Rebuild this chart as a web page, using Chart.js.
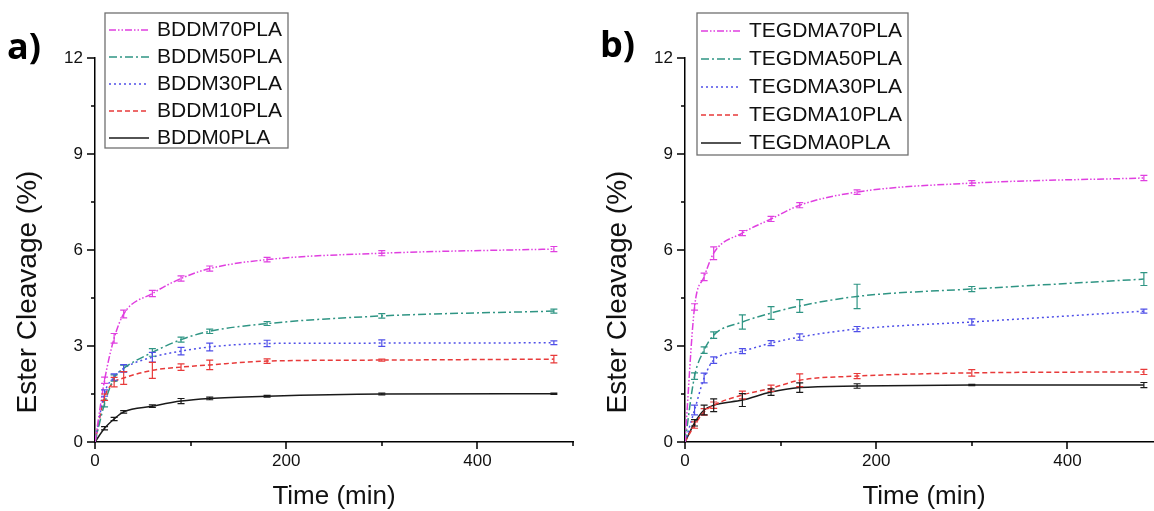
<!DOCTYPE html>
<html>
<head>
<meta charset="utf-8">
<script src="https://cdn.jsdelivr.net/npm/chart.js@4"></script>
<style>
    html, body { margin: 0; padding: 0; background: #fff; overflow: hidden; }
    .wrap { position: relative; width: 1154px; height: 511px; overflow: hidden; }
    canvas { position: absolute; top: 0; }
    #chart-a { left: 0; }
    #chart-b { left: 590px; }
    .panel { position: absolute; font: bold 36px "Open Sans", Lato, sans-serif; line-height: 1; color: #000; }
</style>
</head>
<body>
<div class="wrap">
    <canvas id="chart-a" width="590" height="511"></canvas>
    <canvas id="chart-b" width="590" height="511"></canvas>
    <div class="panel" style="left: 7px; top: 28px;">a)</div>
    <div class="panel" style="left: 600px; top: 26px;">b)</div>
</div>
<script>
// sampling times (min)
const times = [0, 10, 20, 30, 60, 90, 120, 180, 300, 480]

// a) BDDM series, ester cleavage (%)
const bddmLabels = ["BDDM70PLA", "BDDM50PLA", "BDDM30PLA", "BDDM10PLA", "BDDM0PLA"]
const bddm70 = [0, 1.93, 3.24, 4.00, 4.64, 5.11, 5.42, 5.70, 5.90, 6.03]
const bddm50 = [0, 1.20, 2.00, 2.30, 2.80, 3.20, 3.46, 3.70, 3.94, 4.09]
const bddm30 = [0, 1.53, 2.03, 2.30, 2.65, 2.84, 2.97, 3.08, 3.09, 3.10]
const bddm10 = [0, 1.40, 1.87, 2.00, 2.24, 2.34, 2.41, 2.53, 2.56, 2.59]
const bddm0 = [0, 0.43, 0.72, 0.94, 1.12, 1.28, 1.36, 1.43, 1.50, 1.51]
const bddm70Err = [0, 0.10, 0.15, 0.12, 0.10, 0.08, 0.08, 0.07, 0.08, 0.08]
const bddm50Err = [0, 0.10, 0.10, 0.10, 0.12, 0.08, 0.07, 0.06, 0.07, 0.06]
const bddm30Err = [0, 0.10, 0.10, 0.12, 0.15, 0.12, 0.12, 0.10, 0.10, 0.06]
const bddm10Err = [0, 0.10, 0.15, 0.20, 0.25, 0.10, 0.15, 0.07, 0.03, 0.12]
const bddm0Err = [0, 0.05, 0.05, 0.04, 0.04, 0.08, 0.04, 0.03, 0.03, 0.02]

// b) TEGDMA series, ester cleavage (%)
const tegLabels = ["TEGDMA70PLA", "TEGDMA50PLA", "TEGDMA30PLA", "TEGDMA10PLA", "TEGDMA0PLA"]
const teg70 = [0, 4.22, 5.16, 5.90, 6.53, 6.97, 7.40, 7.81, 8.09, 8.25]
const teg50 = [0, 2.06, 2.87, 3.34, 3.75, 4.03, 4.25, 4.55, 4.78, 5.09]
const teg30 = [0, 1.00, 2.00, 2.56, 2.84, 3.09, 3.28, 3.53, 3.75, 4.09]
const teg10 = [0, 0.53, 0.94, 1.15, 1.47, 1.68, 1.93, 2.06, 2.16, 2.19]
const teg0 = [0, 0.60, 1.00, 1.15, 1.31, 1.56, 1.70, 1.75, 1.78, 1.78]
const teg70Err = [0, 0.10, 0.12, 0.20, 0.08, 0.08, 0.08, 0.07, 0.08, 0.08]
const teg50Err = [0, 0.10, 0.10, 0.10, 0.22, 0.20, 0.20, 0.38, 0.08, 0.20]
const teg30Err = [0, 0.15, 0.15, 0.10, 0.08, 0.08, 0.10, 0.08, 0.10, 0.06]
const teg10Err = [0, 0.10, 0.10, 0.10, 0.12, 0.10, 0.20, 0.08, 0.10, 0.08]
const teg0Err = [0, 0.10, 0.15, 0.20, 0.20, 0.10, 0.15, 0.07, 0.02, 0.08]

// axis ranges / tick steps
const xMax = 500, xMajor = 200, xMinor = 100
const yMax = 12, yMajor = 3, yMinor = 1.5

const colors = ["#e03fe0", "#2f9584", "#4f4fe8", "#e83a3a", "#1a1a1a"]
const dashes = [[7, 2, 1.5, 2, 1.5, 2], [8, 3, 2, 3], [2, 3], [5, 3], []]

const font = "'Liberation Sans', Arial, sans-serif"

// vertical error bars with caps
const errorBars = {
    id: "errorBars",
    afterDatasetsDraw(chart) {
        const { ctx, scales: { x, y } } = chart
        ctx.save()
        ctx.setLineDash([])
        ctx.lineWidth = 1.2
        chart.data.datasets.forEach(ds => {
            ctx.strokeStyle = ds.borderColor
            ctx.beginPath()
            ds.data.forEach((p, i) => {
                const err = ds.errors[i]
                if (!err) return
                const px = x.getPixelForValue(p.x)
                const top = y.getPixelForValue(p.y + err)
                const bot = y.getPixelForValue(p.y - err)
                ctx.moveTo(px, top)
                ctx.lineTo(px, bot)
                ctx.moveTo(px - 3.5, top)
                ctx.lineTo(px + 3.5, top)
                ctx.moveTo(px - 3.5, bot)
                ctx.lineTo(px + 3.5, bot)
            })
            ctx.stroke()
        })
        ctx.restore()
    }
}

// outward tick marks, long for major and short for minor
const axisTicks = {
    id: "axisTicks",
    afterDraw(chart) {
        const { ctx, chartArea, scales: { x, y } } = chart
        ctx.save()
        ctx.strokeStyle = "#000"
        ctx.lineWidth = 1.5
        ctx.beginPath()
        x.ticks.forEach(t => {
            const px = Math.round(x.getPixelForValue(t.value))
            const len = t.value % xMajor === 0 ? 7 : 4
            ctx.moveTo(px, chartArea.bottom)
            ctx.lineTo(px, chartArea.bottom + len)
        })
        y.ticks.forEach(t => {
            const py = Math.round(y.getPixelForValue(t.value))
            const len = t.value % yMajor === 0 ? 8 : 4
            ctx.moveTo(chartArea.left, py)
            ctx.lineTo(chartArea.left - len, py)
        })
        ctx.stroke()
        ctx.restore()
    }
}

// rotated y title, sitting a bit below the axis middle
const yTitle = {
    id: "yTitle",
    afterDraw(chart, args, opts) {
        const { ctx } = chart
        ctx.save()
        ctx.translate(opts.x, opts.y)
        ctx.rotate(-Math.PI / 2)
        ctx.font = `${opts.size}px ${font}`
        ctx.fillStyle = "#111"
        ctx.textAlign = "center"
        ctx.textBaseline = "middle"
        ctx.fillText(opts.text, 0, 0)
        ctx.restore()
    }
}

// framed legend with line samples, drawn over the plot
const boxLegend = {
    id: "boxLegend",
    afterDraw(chart, args, opts) {
        const { ctx } = chart
        ctx.save()
        ctx.setLineDash([])
        ctx.strokeStyle = "#707070"
        ctx.lineWidth = 1.3
        ctx.fillStyle = "#fff"
        ctx.fillRect(opts.left, opts.top, opts.width, opts.height)
        ctx.strokeRect(opts.left, opts.top, opts.width, opts.height)
        ctx.font = `21px ${font}`
        ctx.textBaseline = "middle"
        chart.data.datasets.forEach((ds, i) => {
            const ly = opts.top + opts.rowStart + i * opts.rowGap
            ctx.strokeStyle = ds.borderColor
            ctx.lineWidth = 1.4
            ctx.setLineDash(ds.borderDash)
            ctx.beginPath()
            ctx.moveTo(opts.left + 4, ly)
            ctx.lineTo(opts.left + 44, ly)
            ctx.stroke()
            ctx.fillStyle = "#111"
            ctx.fillText(ds.label, opts.left + 52, ly)
        })
        ctx.restore()
    }
}

const makeChart = (id, labels, series, errors, legend) => {
    const datasets = series.map((vals, i) => ({
        label: labels[i],
        data: times.map((t, j) => ({ x: t, y: vals[j] })),
        errors: errors[i],
        borderColor: colors[i],
        borderDash: dashes[i],
        borderWidth: 1.5,
        pointRadius: 0,
        cubicInterpolationMode: "monotone",
        fill: false
    }))
    return new Chart(id, {
        type: "line",
        data: { datasets },
        plugins: [errorBars, axisTicks, yTitle, boxLegend],
        options: {
            responsive: false,
            animation: false,
            layout: { padding: { left: 0, top: 58, right: 17, bottom: 0 } },
            plugins: {
                legend: { display: false },
                tooltip: { enabled: false },
                yTitle: { text: "Ester Cleavage (%)", x: 28, y: 292, size: 28 },
                boxLegend: legend
            },
            scales: {
                x: {
                    type: "linear",
                    min: 0,
                    max: xMax,
                    afterFit: s => { s.height = 69 },
                    ticks: {
                        stepSize: xMinor,
                        padding: 9,
                        color: "#111",
                        font: { family: font, size: 17 },
                        callback: v => v % xMajor === 0 ? v : ""
                    },
                    grid: { drawOnChartArea: false, drawTicks: false },
                    border: { display: true, color: "#000", width: 1.5 },
                    title: {
                        display: true,
                        text: "Time (min)",
                        color: "#111",
                        font: { family: font, size: 26, lineHeight: 1 },
                        padding: { bottom: 1 }
                    }
                },
                y: {
                    type: "linear",
                    min: 0,
                    max: yMax,
                    afterFit: s => { s.width = 95 },
                    ticks: {
                        stepSize: yMinor,
                        padding: 12,
                        color: "#111",
                        font: { family: font, size: 17 },
                        callback: v => v % yMajor === 0 ? v : ""
                    },
                    grid: { drawOnChartArea: false, drawTicks: false },
                    border: { display: true, color: "#000", width: 1.5 }
                }
            }
        }
    })
}

makeChart("chart-a", bddmLabels,
    [bddm70, bddm50, bddm30, bddm10, bddm0],
    [bddm70Err, bddm50Err, bddm30Err, bddm10Err, bddm0Err],
    { left: 105, top: 13, width: 183, height: 135, rowStart: 17, rowGap: 27 })

makeChart("chart-b", tegLabels,
    [teg70, teg50, teg30, teg10, teg0],
    [teg70Err, teg50Err, teg30Err, teg10Err, teg0Err],
    { left: 107, top: 13, width: 211, height: 142, rowStart: 18, rowGap: 28 })
</script>
</body>
</html>
